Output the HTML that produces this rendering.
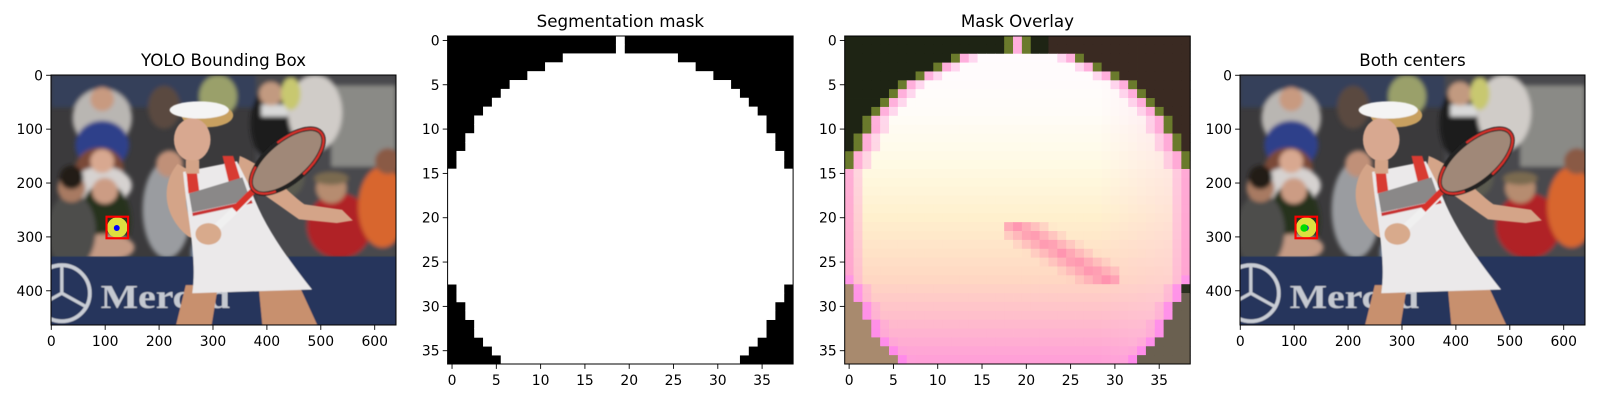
<!DOCTYPE html>
<html><head><meta charset="utf-8">
<style>
html,body{margin:0;padding:0;background:#fff;}
svg{display:block;font-family:"DejaVu Sans","Liberation Sans",sans-serif;}
</style></head>
<body>
<svg id="fig" width="1600" height="400" viewBox="0 0 1600 400" xmlns="http://www.w3.org/2000/svg">
<defs>
<filter id="blur3" x="-5%" y="-5%" width="110%" height="110%"><feGaussianBlur stdDeviation="4"/></filter>
<filter id="blur1"><feGaussianBlur stdDeviation="1.2"/></filter>
</defs>
</svg>
<script>
// ---- data ----
const photoW = 640, photoH = 464;
const photoXTicks = [0,100,200,300,400,500,600];
const photoYTicks = [0,100,200,300,400];
const maskCols = 39, maskRows = 37;
const maskXTicks = [0,5,10,15,20,25,30,35];
const maskYTicks = [0,5,10,15,20,25,30,35];
// white span per mask row: [firstCol, lastCol]
const maskStart = [19,19,13,11,9,7,6,5,4,3,3,2,2,1,1,0,0,0,0,0,0,0,0,0,0,0,0,0,1,1,2,2,3,3,4,5,6];
const maskEnd   = [19,19,25,27,29,31,32,33,34,35,35,36,36,37,37,38,38,38,38,38,38,38,38,38,38,38,38,38,37,37,36,36,35,35,34,33,32];
const bbox = [103, 263, 143, 303];
const yoloCenter = [122, 284];
const maskCenter = [121, 286];

const NS = "http://www.w3.org/2000/svg";
const fig = document.getElementById('fig');
function el(tag, attrs, parent){const e=document.createElementNS(NS,tag);for(const k in attrs)e.setAttribute(k,attrs[k]);(parent||fig).appendChild(e);return e;}

const panels = [
 {name:'yolo', title:'YOLO Bounding Box', x:51, y:75, w:345, h:250, kind:'photo', dot:'blue'},
 {name:'segmentation', title:'Segmentation mask', x:447.6, y:36, w:345.5, h:328, kind:'mask'},
 {name:'overlay', title:'Mask Overlay', x:844.7, y:36, w:345.5, h:328, kind:'overlay'},
 {name:'centers', title:'Both centers', x:1240, y:75, w:345, h:250, kind:'photo', dot:'both'}
];

function photoSVG(){
 return `
 <rect width="640" height="464" fill="#3b3a3c"/>
 <g filter="url(#blur3)">
  <rect x="0" y="0" width="640" height="60" fill="#34405a"/>
  <rect x="380" y="0" width="260" height="340" fill="#4a4a4e"/>
  <rect x="520" y="20" width="120" height="150" fill="#8a8a86"/>
  <ellipse cx="95" cy="80" rx="55" ry="55" fill="#b9b6b2"/>
  <ellipse cx="95" cy="130" rx="50" ry="45" fill="#2d3f8a"/>
  <circle cx="95" cy="45" r="22" fill="#c89a80"/>
  <ellipse cx="90" cy="175" rx="45" ry="40" fill="#7a4a38"/>
  <ellipse cx="95" cy="205" rx="55" ry="35" fill="#d6d2d0"/>
  <circle cx="95" cy="160" r="22" fill="#d8a890"/>
  <ellipse cx="100" cy="270" rx="48" ry="70" fill="#26301e"/>
  <circle cx="100" cy="215" r="24" fill="#cc9c84"/>
  <ellipse cx="100" cy="320" rx="55" ry="25" fill="#c49a84"/>
  <ellipse cx="38" cy="290" rx="45" ry="70" fill="#4e4e4c"/>
  <circle cx="38" cy="210" r="26" fill="#a87a62"/>
  <circle cx="38" cy="190" r="22" fill="#201a18"/>
  <ellipse cx="215" cy="250" rx="45" ry="90" fill="#9a9ca0"/>
  <circle cx="220" cy="165" r="25" fill="#c09078"/>
  <ellipse cx="210" cy="60" rx="30" ry="40" fill="#5a4a40"/>
  <ellipse cx="310" cy="40" rx="35" ry="40" fill="#9aa06a"/>
  <ellipse cx="410" cy="90" rx="40" ry="70" fill="#1c1c1e"/>
  <rect x="390" y="55" width="50" height="22" fill="#d8d8d8"/>
  <circle cx="408" cy="35" r="22" fill="#c29a80"/>
  <ellipse cx="490" cy="70" rx="50" ry="70" fill="#d0ccc8"/>
  <ellipse cx="445" cy="35" rx="18" ry="30" fill="#c8c870"/>
  <ellipse cx="535" cy="280" rx="60" ry="60" fill="#b02428"/>
  <circle cx="520" cy="210" r="28" fill="#b68c70"/>
  <ellipse cx="520" cy="192" rx="32" ry="12" fill="#7a6a50"/>
  <ellipse cx="615" cy="245" rx="45" ry="75" fill="#d8662e"/>
  <circle cx="625" cy="160" r="24" fill="#8a5a44"/>
  <ellipse cx="430" cy="190" rx="40" ry="40" fill="#5a5a50"/>
  <ellipse cx="300" cy="330" rx="40" ry="40" fill="#8a9cb8"/>
 </g>
 <g filter="url(#blur1)">
  <rect x="0" y="337" width="640" height="127" fill="#25365c"/>
  <circle cx="20" cy="405" r="52" fill="none" stroke="#c8ccd4" stroke-width="7"/>
  <path d="M20 405 L20 355 M20 405 L65 430 M20 405 L-25 430" stroke="#c8ccd4" stroke-width="6"/>
  <text x="92" y="432" font-family="Liberation Serif, serif" font-size="62" font-weight="bold" fill="#c4c8d0" textLength="240" lengthAdjust="spacingAndGlyphs">Merced</text>
  <path d="M232 464 L250 390 L310 390 L298 464 Z" fill="#c8906e"/>
  <path d="M392 464 L385 390 L460 390 L494 464 Z" fill="#c8906e"/>
  <path d="M235 165 C205 200 205 260 255 300 L300 318 L312 290 L262 270 C245 250 248 210 262 180 Z" fill="#d4a488"/>
  <path d="M350 150 C400 170 430 210 470 240 L540 250 L560 270 L530 275 L460 268 C420 240 380 210 345 190 Z" fill="#d4a488"/>
  <path d="M245 180 L345 160 L370 210 C390 270 430 330 484 398 L262 405 C272 340 252 260 245 180 Z" fill="#ebe9ea"/>
  <path d="M250 165 L268 160 L275 215 L255 220 Z" fill="#d83a32"/>
  <path d="M318 150 L338 150 L352 195 L330 200 Z" fill="#d83a32"/>
  <path d="M256 220 L355 190 L370 232 L262 255 Z" fill="#8a8888"/>
  <path d="M262 256 L372 232 L374 238 L263 262 Z" fill="#c83030"/>
  <ellipse cx="290" cy="75" rx="48" ry="22" fill="#c8a060"/>
  <ellipse cx="262" cy="120" rx="34" ry="40" fill="#d8a890"/>
  <ellipse cx="275" cy="65" rx="55" ry="16" fill="#f4f4f4"/>
  <rect x="250" y="158" width="25" height="25" fill="#d4a488"/>
  <path d="M300 290 L365 228" stroke="#f0f0f0" stroke-width="14" stroke-linecap="round"/>
  <path d="M340 250 L375 215" stroke="#d8302a" stroke-width="12"/>
  <ellipse cx="438" cy="160" rx="82" ry="38" transform="rotate(-40 438 160)" fill="#a08878" stroke="#222" stroke-width="8"/>
  <ellipse cx="438" cy="160" rx="82" ry="38" transform="rotate(-40 438 160)" fill="none" stroke="#d8302a" stroke-width="4" stroke-dasharray="90 60"/>
  <ellipse cx="292" cy="295" rx="24" ry="20" fill="#d8aa8c"/>
 </g>
 <circle cx="${(bbox[0]+bbox[2])/2}" cy="${(bbox[1]+bbox[3])/2}" r="19" fill="#dde040"/>`;
}

// overlay colour keyframes by row (image texture, not chart data)
const ovKeyRows = [0, 8, 14, 20, 27, 32, 36];
const ovKeyCols = [[255,250,255],[255,252,248],[255,250,228],[255,240,205],[255,215,195],[255,185,205],[255,160,215]];
function lerp(a,b,t){return a.map((v,i)=>Math.round(v+(b[i]-v)*t));}
function rgb(a){return `rgb(${a[0]},${a[1]},${a[2]})`;}
function overlayColor(r,c){
 const inside = c>=maskStart[r] && c<=maskEnd[r];
 if(!inside){
  const nearEdge = (c<maskStart[r] && maskStart[r]-c<=1) || (c>maskEnd[r] && c-maskEnd[r]<=1);
  if(r<15){
   if(nearEdge) return '#6a7a2c';
   return c>22 ? '#3a2a22' : '#1e2414';
  }
  if(c<19) return '#a88a6e';
  return r<29 ? '#2a3020' : '#6a6050';
 }
 let k=0; while(k<ovKeyRows.length-2 && r>ovKeyRows[k+1]) k++;
 const t=(r-ovKeyRows[k])/(ovKeyRows[k+1]-ovKeyRows[k]);
 let col=lerp(ovKeyCols[k],ovKeyCols[k+1],Math.min(1,Math.max(0,t)));
 // right side slightly pinker
 col=lerp(col,[255,200,225],Math.max(0,(c-28)/12)*0.5);
 const d=Math.abs((r-21)-(c-19)*0.6);
 if(r>=21 && r<=27 && c>=18 && c<=30 && d<2.5) col=lerp(col,[255,130,170],(2.5-d)/2.5*0.8);
 const edge = Math.min(c-maskStart[r], maskEnd[r]-c);
 if(edge===0) col=lerp(col, r>26?[255,130,240]:[255,150,210],0.75);
 else if(edge===1) col=lerp(col,[255,160,220],0.4);
 return rgb(col);
}

panels.forEach(p=>{
 const g = el('g',{});
 
 
 const t = el('text',{x:p.x+p.w/2, y:p.y-9, 'text-anchor':'middle','font-size':'16.7',fill:'#000'},g);
 t.textContent = p.title;
 
 
 let xs, ys, xt, yt;
 if(p.kind==='photo'){
  const sx=p.w/photoW, sy=p.h/photoH;
  xs=v=>p.x+(v+0.5)*sx; ys=v=>p.y+(v+0.5)*sy; xt=photoXTicks; yt=photoYTicks;
  const im = el('svg',{x:p.x,y:p.y,width:p.w,height:p.h,viewBox:'0 0 640 464',preserveAspectRatio:'none'},g);
  
  
  im.innerHTML = photoSVG();
  const bb = el('rect',{x:bbox[0],y:bbox[1],width:bbox[2]-bbox[0],height:bbox[3]-bbox[1],fill:'none',stroke:'#ff0000','stroke-width':4},im);
  
  
  const d1 = el('circle',{cx:yoloCenter[0],cy:yoloCenter[1],r:5.5,fill:'#0000ff'},im);
  
  
  if(p.dot==='both'){
   const d2 = el('circle',{cx:maskCenter[0]-2,cy:maskCenter[1]-2,r:7,fill:'#00dd00'},im);
   
   
  }
 } else {
  const cw=p.w/maskCols, ch=p.h/maskRows;
  xs=v=>p.x+(v+0.5)*cw; ys=v=>p.y+(v+0.5)*ch; xt=maskXTicks; yt=maskYTicks;
  const im = el('g',{},g);
  
  
  if(p.kind==='mask'){
   el('rect',{x:p.x,y:p.y,width:p.w,height:p.h,fill:'#000'},im);
   for(let r=0;r<maskRows;r++){
    const a=maskStart[r], b=maskEnd[r];
    el('rect',{x:p.x+a*cw,y:p.y+r*ch-0.3,width:(b-a+1)*cw,height:ch+0.6,fill:'#fff'},im);
   }
  } else {
   for(let r=0;r<maskRows;r++)for(let c=0;c<maskCols;c++){
    el('rect',{x:p.x+c*cw,y:p.y+r*ch,width:cw+0.4,height:ch+0.4,fill:overlayColor(r,c)},im);
   }
  }
 }
 const fr = el('rect',{x:p.x,y:p.y,width:p.w,height:p.h,fill:'none',stroke:'#000','stroke-width':1},g);
 
 
 xt.forEach(v=>{
  const X=xs(v);
  el('line',{x1:X,x2:X,y1:p.y+p.h,y2:p.y+p.h+4.9,stroke:'#000','stroke-width':0.9},g);
  const tl=el('text',{x:X,y:p.y+p.h+21,'text-anchor':'middle','font-size':'13.9',fill:'#000'},g);
  tl.textContent=v;
  
  
 });
 yt.forEach(v=>{
  const Y=ys(v);
  el('line',{x1:p.x-4.9,x2:p.x,y1:Y,y2:Y,stroke:'#000','stroke-width':0.9},g);
  const tl=el('text',{x:p.x-8,y:Y+5,'text-anchor':'end','font-size':'13.9',fill:'#000'},g);
  tl.textContent=v;
  
  
 });
});
</script>
</body></html>
